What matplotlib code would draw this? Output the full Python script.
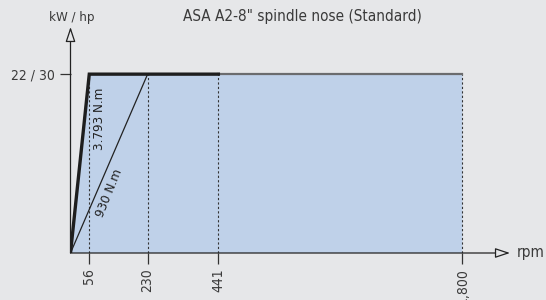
import numpy as np
import matplotlib
matplotlib.use("Agg")
import matplotlib.pyplot as plt

plt.rcParams['font.family'] = ['DejaVu Sans']
plt.rcParams['font.stretch'] = 'condensed'

# data
rpm_ticks = [56, 230, 441, 1800]
rpm_labels = ['56', '230', '441', '1,800']
power_max = 22
power_label = '22 / 30'
rpm_max = 1800
rpm_base = 56      # 3.793 N.m reaches full power
rpm_low = 230      # 930 N.m reaches full power
rpm_thick_end = 441

bg = '#e6e7e9'
fill_col = '#bfd1e9'
txt = '#3a3a3a'

# x axis is compressed above 441 rpm
k = 0.5356
bx = [0, 441, 5000]
by = [0, 441, 441 + (5000 - 441) * k]
def fwd(x):
    return np.interp(x, bx, by)
def inv(x):
    return np.interp(x, by, bx)

fig = plt.figure(figsize=(5.46, 3.0), dpi=100, facecolor=bg)
ax = fig.add_axes([70.5 / 546, 47 / 300, (510 - 70.5) / 546, (253 - 27) / 300])
ax.set_facecolor(bg)
ax.set_xscale('function', functions=(fwd, inv))
ax.set_xlim(0, 2065)
ax.set_ylim(0, 27.8)
for s in ax.spines.values():
    s.set_visible(False)

# blue area
ax.fill([0, rpm_base, rpm_max, rpm_max], [0, power_max, power_max, 0],
        color=fill_col, lw=0, zorder=1)

# dotted verticals
for r in rpm_ticks:
    ax.plot([r, r], [0, power_max], ls=(0, (2, 2)), color='#333333', lw=0.8, zorder=2)

# top edge continuing to 1800
ax.plot([rpm_thick_end, rpm_max], [power_max, power_max], color='#6b6c6e', lw=1.6, zorder=3)
# 930 N.m line
ax.plot([0, rpm_low], [0, power_max], color='#222222', lw=0.9, zorder=3)
# 3.793 N.m line
ax.plot([0, rpm_base, rpm_thick_end], [0, power_max, power_max], color='#1e1e1e',
        lw=2.4, solid_joinstyle='miter', zorder=4)

# axes with open arrow heads
arrow = dict(arrowstyle='-|>,head_length=0.9,head_width=0.3', fc=bg, ec='#222222',
             lw=0.9, mutation_scale=10, shrinkA=0, shrinkB=0)
ax.annotate('', xy=(1, 0), xytext=(0, 0), xycoords='axes fraction', arrowprops=arrow, zorder=5)
ax.annotate('', xy=(0, 1), xytext=(0, 0), xycoords='axes fraction', arrowprops=arrow, zorder=5)

ax.set_xticks(rpm_ticks)
ax.set_xticklabels(rpm_labels, rotation=90, fontsize=10, color=txt)
ax.set_yticks([power_max])
ax.set_yticklabels([power_label], fontsize=10, color=txt)
ax.tick_params(axis='both', direction='out', length=8, width=0.9, color='#333333', pad=3)

ax.text(2100, 0, 'rpm', fontsize=11, color=txt, va='center', ha='left', clip_on=False)
fig.text(71.5 / 546, 1 - 17 / 300, 'kW / hp', fontsize=9.5, color=txt, ha='center', va='center')
fig.text(302 / 546, 1 - 17 / 300, 'ASA A2-8" spindle nose (Standard)', fontsize=11,
         color=txt, ha='center', va='center')

ax.text(86, 16.5, '3.793 N.m', rotation=90, fontsize=9.5, color='#222222', ha='center', va='center')
ax.text(115, 7.4, '930 N.m', rotation=68, fontsize=9.5, color='#222222', ha='center', va='center',
        rotation_mode='anchor')

fig.savefig('out.png', dpi=100, facecolor=bg)
